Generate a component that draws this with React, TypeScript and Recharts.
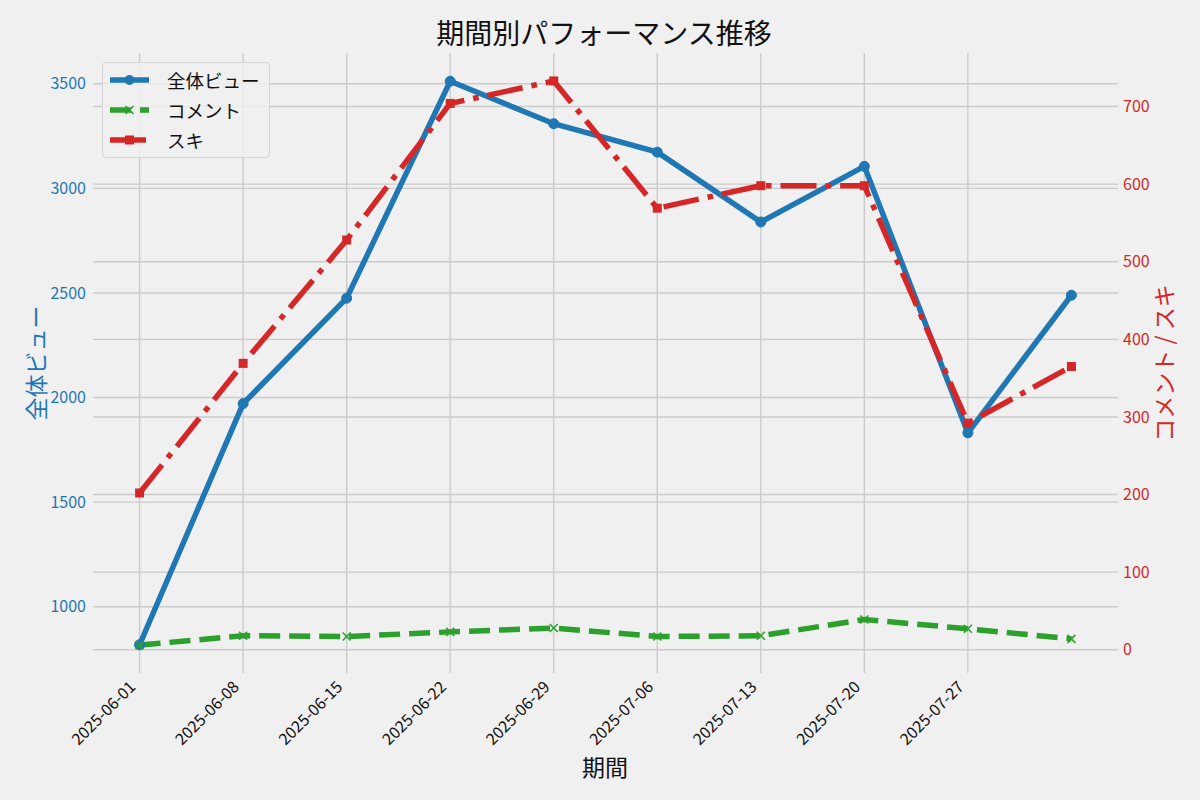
import React from 'react';
import { LineChart, Line, XAxis, YAxis, CartesianGrid } from 'recharts';

// weekly data, 2025-06-01 .. 2025-08-03
const dates = [
  '2025-06-01', '2025-06-08', '2025-06-15', '2025-06-22', '2025-06-29',
  '2025-07-06', '2025-07-13', '2025-07-20', '2025-07-27', '2025-08-03',
];
const views = [818, 1971, 2475, 3512, 3309, 3173, 2839, 3105, 1831, 2489];
const comments = [6, 18, 17, 23, 28, 17, 18, 39, 27, 14];
const likes = [202, 369, 528, 704, 733, 569, 598, 598, 292, 365];

const tickDates = [
  '2025-06-01', '2025-06-08', '2025-06-15', '2025-06-22', '2025-06-29',
  '2025-07-06', '2025-07-13', '2025-07-20', '2025-07-27',
];
const leftTicks = [1000, 1500, 2000, 2500, 3000, 3500];
const rightTicks = [0, 100, 200, 300, 400, 500, 600, 700];

const BLUE = '#1f77b4';
const GREEN = '#2ca02c';
const RED = '#d62728';
const BG = '#f0f0f0';
const GRID = '#cbcbcb';
const FONT = "'Noto Sans CJK JP', 'Noto Sans', sans-serif";

const DAY = 24 * 60 * 60 * 1000;
const toDay = (s: string) => Math.round((Date.parse(s) - Date.parse(dates[0])) / DAY);

const data = dates.map((d, i) => ({
  day: toDay(d),
  views: views[i],
  comments: comments[i],
  likes: likes[i],
}));

const xTicks = tickDates.map(toDay);
const labelFor = (day: number) => {
  const i = xTicks.indexOf(day);
  return i >= 0 ? tickDates[i] : '';
};

const CircleDot = (props: any) => (
  <circle key={`c-${props.index}`} cx={props.cx} cy={props.cy} r={5} fill={BLUE} stroke={BLUE} />
);
const SquareDot = (props: any) => (
  <rect key={`s-${props.index}`} x={props.cx - 4.5} y={props.cy - 4.5} width={9} height={9} fill={RED} />
);
const CrossDot = (props: any) => (
  <g key={`x-${props.index}`} stroke={GREEN} strokeWidth={1.6}>
    <line x1={props.cx - 4} y1={props.cy - 4} x2={props.cx + 4} y2={props.cy + 4} />
    <line x1={props.cx - 4} y1={props.cy + 4} x2={props.cx + 4} y2={props.cy - 4} />
  </g>
);

const DateTick = (props: any) => {
  const { x, y, payload } = props;
  const tx = x - 3;
  const ty = y + 15;
  return (
    <text
      x={tx}
      y={ty}
      textAnchor="end"
      transform={`rotate(-45 ${tx} ${ty})`}
      fontSize={16}
      fontFamily={FONT}
      fill="#111"
    >
      {labelFor(payload.value)}
    </text>
  );
};

const legendItems = [
  { name: '全体ビュー', color: BLUE, dash: undefined, marker: 'circle' },
  { name: 'コメント', color: GREEN, dash: '21 9', marker: 'x' },
  { name: 'スキ', color: RED, dash: '36 9 5.6 9', marker: 'square' },
];

const LegendBox = () => (
  <div
    style={{
      position: 'absolute',
      left: 102,
      top: 62,
      width: 168,
      height: 96,
      border: '1px solid #d4d4d4',
      borderRadius: 4,
      background: 'rgba(240,240,240,0.8)',
      boxSizing: 'border-box',
      paddingTop: 2,
    }}
  >
    {legendItems.map((it) => (
      <div key={it.name} style={{ display: 'flex', alignItems: 'center', height: 30 }}>
        <svg width={58} height={20} style={{ marginLeft: 6 }}>
          <line x1={1} y1={10} x2={40} y2={10} stroke={it.color} strokeWidth={5.5} strokeDasharray={it.dash} />
          {it.marker === 'circle' && <circle cx={20.5} cy={10} r={5} fill={it.color} />}
          {it.marker === 'square' && <rect x={16} y={5.5} width={9} height={9} fill={it.color} />}
          {it.marker === 'x' && (
            <g stroke={it.color} strokeWidth={1.6}>
              <line x1={16.5} y1={6} x2={24.5} y2={14} />
              <line x1={16.5} y1={14} x2={24.5} y2={6} />
            </g>
          )}
        </svg>
        <span style={{ fontFamily: FONT, fontSize: 18.5, color: '#111' }}>{it.name}</span>
      </div>
    ))}
  </div>
);

const App: React.FC = () => {
  return (
    <div
      style={{
        position: 'absolute',
        left: 0,
        top: 0,
        width: 1200,
        height: 800,
        background: BG,
        fontFamily: FONT,
      }}
    >
      <div
        style={{
          position: 'absolute',
          left: 0,
          width: 1208,
          top: 12,
          textAlign: 'center',
          fontSize: 28,
          color: '#111',
          lineHeight: '40px',
        }}
      >
        期間別パフォーマンス推移
      </div>

      <LineChart width={1200} height={800} data={data} margin={{ top: 53, right: 0, bottom: 0, left: 0 }}>
        <CartesianGrid yAxisId="left" stroke={GRID} strokeWidth={1.4} syncWithTicks />
        <XAxis
          dataKey="day"
          type="number"
          domain={[-3.15, 66.15]}
          ticks={xTicks}
          allowDataOverflow
          height={127}
          tickLine={false}
          axisLine={false}
          tickSize={0}
          tickMargin={0}
          tick={<DateTick />}
          interval={0}
        />
        <YAxis
          yAxisId="left"
          domain={[683, 3647]}
          ticks={leftTicks}
          allowDataOverflow
          width={93}
          tickLine={false}
          axisLine={false}
          tickSize={0}
          tickMargin={7}
          tick={{ fill: BLUE, fontSize: 16, fontFamily: FONT }}
        />
        <YAxis
          yAxisId="right"
          orientation="right"
          domain={[-30, 769]}
          ticks={rightTicks}
          allowDataOverflow
          width={82}
          tickLine={false}
          axisLine={false}
          tickSize={0}
          tickMargin={5}
          tick={{ fill: RED, fontSize: 16, fontFamily: FONT, textAnchor: 'start' }}
        />
        <Line
          yAxisId="left"
          dataKey="views"
          stroke={BLUE}
          strokeWidth={5.5}
          dot={CircleDot}
          activeDot={false}
          isAnimationActive={false}
        />
        <CartesianGrid yAxisId="right" stroke={GRID} strokeWidth={1.4} vertical={false} syncWithTicks />
        <Line
          yAxisId="right"
          dataKey="comments"
          stroke={GREEN}
          strokeWidth={5.5}
          strokeDasharray="21 9"
          dot={CrossDot}
          activeDot={false}
          isAnimationActive={false}
        />
        <Line
          yAxisId="right"
          dataKey="likes"
          stroke={RED}
          strokeWidth={5.5}
          strokeDasharray="36 9 5.6 9"
          dot={SquareDot}
          activeDot={false}
          isAnimationActive={false}
        />
      </LineChart>

      <LegendBox />

      <div
        style={{
          position: 'absolute',
          left: 35,
          top: 363,
          transform: 'translate(-50%, -50%) rotate(-90deg)',
          fontSize: 23,
          color: BLUE,
          whiteSpace: 'nowrap',
        }}
      >
        全体ビュー
      </div>
      <div
        style={{
          position: 'absolute',
          left: 1163,
          top: 363,
          transform: 'translate(-50%, -50%) rotate(-90deg)',
          fontSize: 23,
          color: RED,
          whiteSpace: 'nowrap',
        }}
      >
        コメント / スキ
      </div>
      <div
        style={{
          position: 'absolute',
          left: 605,
          top: 766,
          transform: 'translate(-50%, -50%)',
          fontSize: 23,
          color: '#111',
          whiteSpace: 'nowrap',
        }}
      >
        期間
      </div>
    </div>
  );
};

export default App;
